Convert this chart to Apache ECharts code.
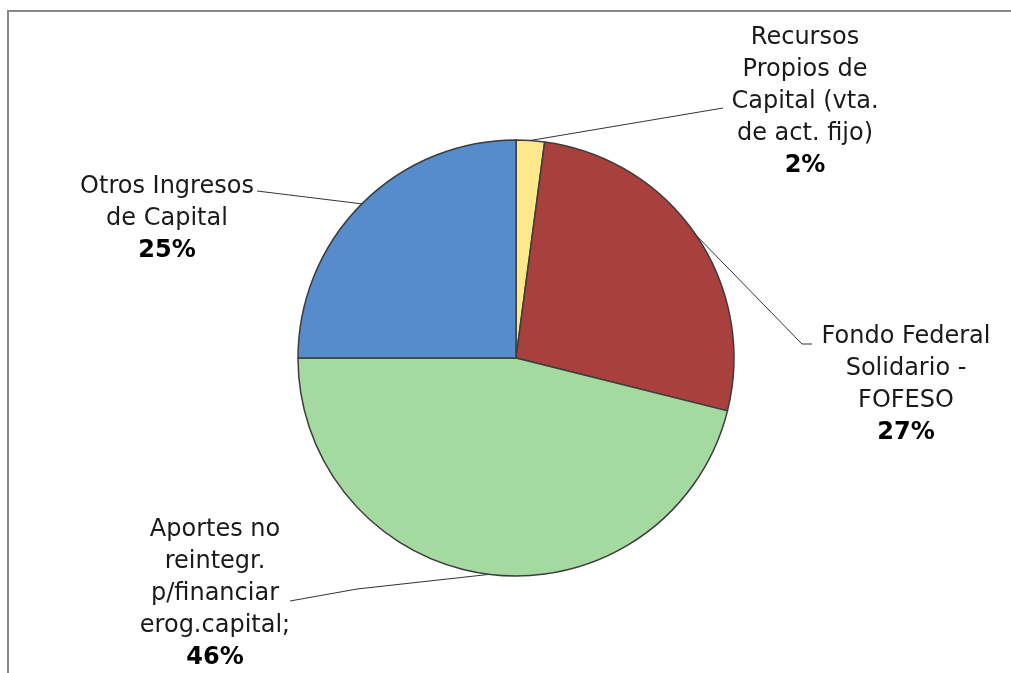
<!DOCTYPE html>
<html>
<head>
<meta charset="utf-8">
<script src="https://cdn.jsdelivr.net/npm/echarts@6/dist/echarts.min.js"></script>
<style>
html,body{margin:0;padding:0;background:#fff;}
#chart{width:1011px;height:673px;}
</style>
</head>
<body>
<div id="chart"></div>
<script>
// ---- data ----
const categories = [
  'Recursos\nPropios de\nCapital (vta.\nde act. fijo)',
  'Fondo Federal\nSolidario -\nFOFESO',
  'Aportes no\nreintegr.\np/financiar\nerog.capital;',
  'Otros Ingresos\nde Capital'
];
const values = [2.1, 26.8, 46.1, 25.0];

// ---- style / layout ----
const palette = ['#FFE88C', '#A8413E', '#A4DAA0', '#568CCC'];
const LH = 32;
// label anchor: center x, top y; leader end points (elbow optional)
const labelLayoutSpec = [
  {cx: 805, top: 22, pts: [[723, 108]]},
  {cx: 906, top: 321, pts: [[802, 344], [812, 344]]},
  {cx: 215, top: 514, pts: [[357, 589], [290, 601]]},
  {cx: 167, top: 171, pts: [[257, 191]]}
];

const chart = echarts.init(document.getElementById('chart'));
const fontFamily = 'DejaVu Sans';

chart.setOption({
  backgroundColor: '#ffffff',
  animation: false,
  graphic: [{
    type: 'polyline',
    shape: {points: [[8, 680], [8, 11], [1020, 11]]},
    style: {stroke: '#878787', lineWidth: 2, fill: null},
    silent: true
  }],
  series: [{
    type: 'pie',
    center: [516, 358],
    radius: 218,
    startAngle: 90,
    clockwise: true,
    avoidLabelOverlap: false,
    percentPrecision: 0,
    data: categories.map((c, i) => ({
      name: c, value: values[i],
      itemStyle: {color: palette[i]}
    })),
    itemStyle: {borderColor: '#3c3c3c', borderWidth: 1.5},
    label: {
      show: true,
      position: 'outside',
      formatter: (p) => p.name.split('\n').map(l => '{n|' + l + '}').join('\n') + '\n{p|' + Math.round(p.percent) + '%}',
      rich: {
        n: {fontFamily: fontFamily, fontSize: 24, color: '#1a1a1a', lineHeight: LH, align: 'center'},
        p: {fontFamily: fontFamily, fontSize: 24, fontWeight: 'bold', color: '#000', lineHeight: LH, align: 'center'}
      }
    },
    labelLine: {
      show: true,
      length: 10, length2: 10,
      lineStyle: {color: '#333', width: 1}
    },
    labelLayout: (params) => {
      const s = labelLayoutSpec[params.dataIndex];
      const start = params.labelLinePoints ? params.labelLinePoints[0] : s.pts[0];
      return {
        x: s.cx,
        y: s.top,
        align: 'center',
        verticalAlign: 'top',
        labelLinePoints: [start].concat(s.pts)
      };
    }
  }]
});
</script>
</body>
</html>
